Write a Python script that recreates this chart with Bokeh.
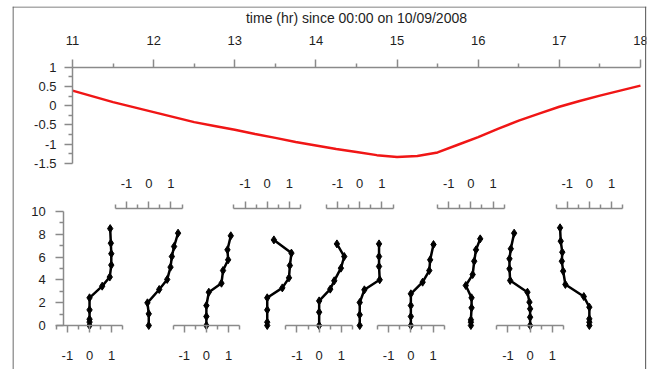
from bokeh.plotting import figure
from bokeh.models import LinearAxis, Range1d, FixedTicker, Span
from bokeh.embed import file_html
from bokeh.resources import INLINE

# ---------------- data ----------------
time_hr = [11.0, 11.25, 11.5, 11.75, 12.0, 12.25, 12.5, 12.75, 13.0, 13.25, 13.5,
           13.75, 14.0, 14.25, 14.5, 14.75, 15.0, 15.25, 15.5, 15.75, 16.0, 16.25,
           16.5, 16.75, 17.0, 17.25, 17.5, 17.75, 18.0]
top_value = [0.39, 0.24, 0.09, -0.04, -0.17, -0.30, -0.43, -0.53, -0.63, -0.74, -0.84,
             -0.95, -1.04, -1.13, -1.21, -1.29, -1.34, -1.31, -1.22, -1.02, -0.82, -0.60,
             -0.39, -0.21, -0.03, 0.12, 0.26, 0.39, 0.52]

time_ticks = [11, 12, 13, 14, 15, 16, 17, 18]
time_minor = [11.5, 12.5, 13.5, 14.5, 15.5, 16.5, 17.5]
time_labels = ["11", "12", "13", "14", "15", "16", "17", "18"]
time_title = "time (hr) since 00:00 on 10/09/2008"

top_y_ticks = [1, 0.5, 0, -0.5, -1, -1.5]
top_y_minor = [0.75, 0.25, -0.25, -0.75, -1.25]
top_y_labels = ["1", "0.5", "0", "-0.5", "-1", "-1.5"]

height_ticks = [0, 2, 4, 6, 8, 10]
height_minor = [1, 3, 5, 7, 9]
height_labels = ["0", "2", "4", "6", "8", "10"]

profile_ticks = [-1, 0, 1]
profile_minor = [-1.5, -0.5, 0.5, 1.5]
profile_labels = ["-1", "0", "1"]

profile_times = [11.21, 11.94, 12.65, 13.40, 14.04, 14.54, 15.17, 15.91, 16.64, 17.37]
profile_axis_side = ["below", "above", "below", "above", "below",
                     "above", "below", "above", "below", "above"]

p1_value = [0, 0, 0, 0, 0, 0.57, 0.91, 0.98, 0.98, 0.96, 0.93]
p1_height = [0, 0.3, 0.55, 1.37, 2.43, 3.45, 4.25, 5.3, 6.3, 7.22, 8.5]
p2_value = [0, 0, -0.06, 0.47, 0.83, 0.98, 1.04, 1.14, 1.32]
p2_height = [0, 1.02, 1.99, 3.16, 4.04, 5.12, 6.05, 6.93, 8.1]
p3_value = [0, 0, 0, 0.11, 0.68, 0.75, 0.98, 0.95, 1.1]
p3_height = [0, 0.79, 1.75, 2.92, 3.71, 4.82, 5.76, 6.64, 7.87]
p4_value = [0, 0, 0, 0, 0.68, 0.98, 1.02, 1.09, 0.3]
p4_height = [0, 0.29, 1.37, 2.43, 3.3, 4.18, 5.26, 6.35, 7.51]
p5_value = [0, 0, 0, 0.5, 0.68, 0.98, 1.13, 0.8]
p5_height = [0, 1.17, 2.16, 3.19, 3.92, 5.03, 6.05, 7.16]
p6_value = [0, 0, 0, 0.21, 0.9, 0.87, 0.87, 0.87]
p6_height = [0, 0.94, 2.02, 3.13, 4.01, 5.18, 6.05, 7.16]
p7_value = [0, 0, 0, 0, 0.53, 0.83, 0.87, 1.02]
p7_height = [0, 0.79, 1.75, 2.78, 3.8, 4.82, 5.76, 7.1]
p8_value = [0, 0, 0, 0.03, 0.03, -0.23, 0.08, 0.15, 0.23, 0.42]
p8_height = [0, 0.29, 0.5, 1.55, 2.43, 3.51, 4.47, 5.64, 6.64, 7.6]
p9_value = [0, 0, 0, -0.03, -0.12, -0.9, -0.93, -0.93, -0.87, -0.72]
p9_height = [0, 0.73, 1.46, 2.05, 2.92, 3.95, 4.97, 5.85, 6.73, 8.1]
p10_value = [0, 0, 0, 0, -0.25, -1.08, -1.18, -1.24, -1.22, -1.29, -1.32]
p10_height = [0, 0.29, 0.58, 1.61, 2.54, 3.6, 4.77, 5.64, 6.43, 7.4, 8.57]

profiles = [(p1_value, p1_height), (p2_value, p2_height), (p3_value, p3_height),
            (p4_value, p4_height), (p5_value, p5_height), (p6_value, p6_height),
            (p7_value, p7_height), (p8_value, p8_height), (p9_value, p9_height),
            (p10_value, p10_height)]

# ---------------- layout ----------------
W, H = 654, 369
PAD_L, PAD_R, PAD_T = 12, 8, 6
FW, FH = W - PAD_L - PAD_R, H - PAD_T
PX_HR = 81.14          # px per hour
PX_HGT = 11.4          # px per height unit (lower panel)
PX_TOP = 38.4          # px per unit (upper panel)
PX_PROF = 22.2         # px per profile unit
T11_X = 60.0           # frame x of 11:00
H0_Y = 319.0           # frame y (from top) of height 0
TOP1_Y = 60.7          # frame y of upper value 1
TOP_AXIS_H = 10.22     # height at which upper profile axes sit
LEFT_AXIS_T = 11 - 8.7 / PX_HR

AX_COL = "#8a8a8a"
LAB_COL = "#1e1e1e"
FONT = "Liberation Sans"

t0 = 11 - T11_X / PX_HR
t1 = t0 + FW / PX_HR
x_range = Range1d(t0, t1)
y_range = Range1d(-(FH - H0_Y) / PX_HGT, H0_Y / PX_HGT)

p = figure(width=W, height=H, x_range=x_range, y_range=y_range,
           x_axis_type=None, y_axis_type=None, toolbar_location=None,
           output_backend="svg", min_border_left=PAD_L, min_border_right=PAD_R,
           min_border_top=PAD_T, min_border_bottom=0)
p.outline_line_color = None
p.background_fill_color = "white"
p.border_fill_color = "white"

p.extra_y_ranges = {"top": Range1d(1 - (FH - TOP1_Y) / PX_TOP, 1 + TOP1_Y / PX_TOP)}
S = PX_PROF / PX_HR
prof_ranges = {}
for i, t in enumerate(profile_times):
    prof_ranges[f"p{i}"] = Range1d((t0 - t) / S, (t1 - t) / S)
p.extra_x_ranges = prof_ranges


def style(ax, ticks, minor, labels, major_out, minor_out, standoff):
    ax.ticker = FixedTicker(ticks=ticks, minor_ticks=minor)
    ax.major_label_overrides = {tk: lb for tk, lb in zip(ticks, labels)}
    ax.axis_line_color = AX_COL
    ax.axis_line_width = 1.5
    ax.major_tick_line_color = AX_COL
    ax.major_tick_line_width = 1.5
    ax.minor_tick_line_color = AX_COL
    ax.minor_tick_line_width = 1.5
    ax.major_tick_in = 0
    ax.major_tick_out = major_out
    ax.minor_tick_in = 0
    ax.minor_tick_out = minor_out
    ax.major_label_text_font = FONT
    ax.major_label_text_font_size = "13px"
    ax.major_label_text_color = LAB_COL
    ax.major_label_standoff = standoff


# upper panel: time axis on top
tax = LinearAxis(fixed_location=1, y_range_name="top", bounds=(11, 18))
style(tax, time_ticks, time_minor, time_labels, 8, 4, 14)
tax.axis_label = time_title
tax.axis_label_text_font = FONT
tax.axis_label_text_font_size = "14px"
tax.axis_label_text_font_style = "normal"
tax.axis_label_text_color = LAB_COL
tax.axis_label_standoff = 8
p.add_layout(tax, "above")

# upper panel y axis
yax = LinearAxis(fixed_location=11, y_range_name="top", bounds=(-1.5, 1))
style(yax, top_y_ticks, top_y_minor, top_y_labels, 8, 4, 8)
p.add_layout(yax, "left")

p.line(time_hr, top_value, y_range_name="top", line_color="#f01616", line_width=2.5)

# lower panel y axis
hax = LinearAxis(fixed_location=LEFT_AXIS_T, bounds=(0, 10))
style(hax, height_ticks, height_minor, height_labels, 8, 4, 10)
p.add_layout(hax, "left")

# profiles
for i, ((vals, hts), side) in enumerate(zip(profiles, profile_axis_side)):
    rn = f"p{i}"
    loc = 0 if side == "below" else TOP_AXIS_H
    ax = LinearAxis(x_range_name=rn, fixed_location=loc, bounds=(-1.5, 1.5))
    style(ax, profile_ticks, profile_minor, profile_labels, 7, 4,
          18 if side == "below" else 14)
    p.add_layout(ax, side)
    p.line(vals, hts, x_range_name=rn, line_color="black", line_width=2.5)
    p.scatter(vals, hts, x_range_name=rn, marker="diamond", size=8,
              fill_color="black", line_color="black")

# outer frame (open at the bottom, as in the cropped original)
BORDER = "#5a5a5a"
p.add_layout(Span(location=t0 + 0.5 / PX_HR, dimension="height",
                  line_color=BORDER, line_width=1.2))
p.add_layout(Span(location=t1 - 0.8 / PX_HR, dimension="height",
                  line_color=BORDER, line_width=1.2))
p.add_layout(Span(location=y_range.end - 0.5 / PX_HGT, dimension="width",
                  line_color=BORDER, line_width=1.2))

open("out.html", "w").write(file_html(p, INLINE))
